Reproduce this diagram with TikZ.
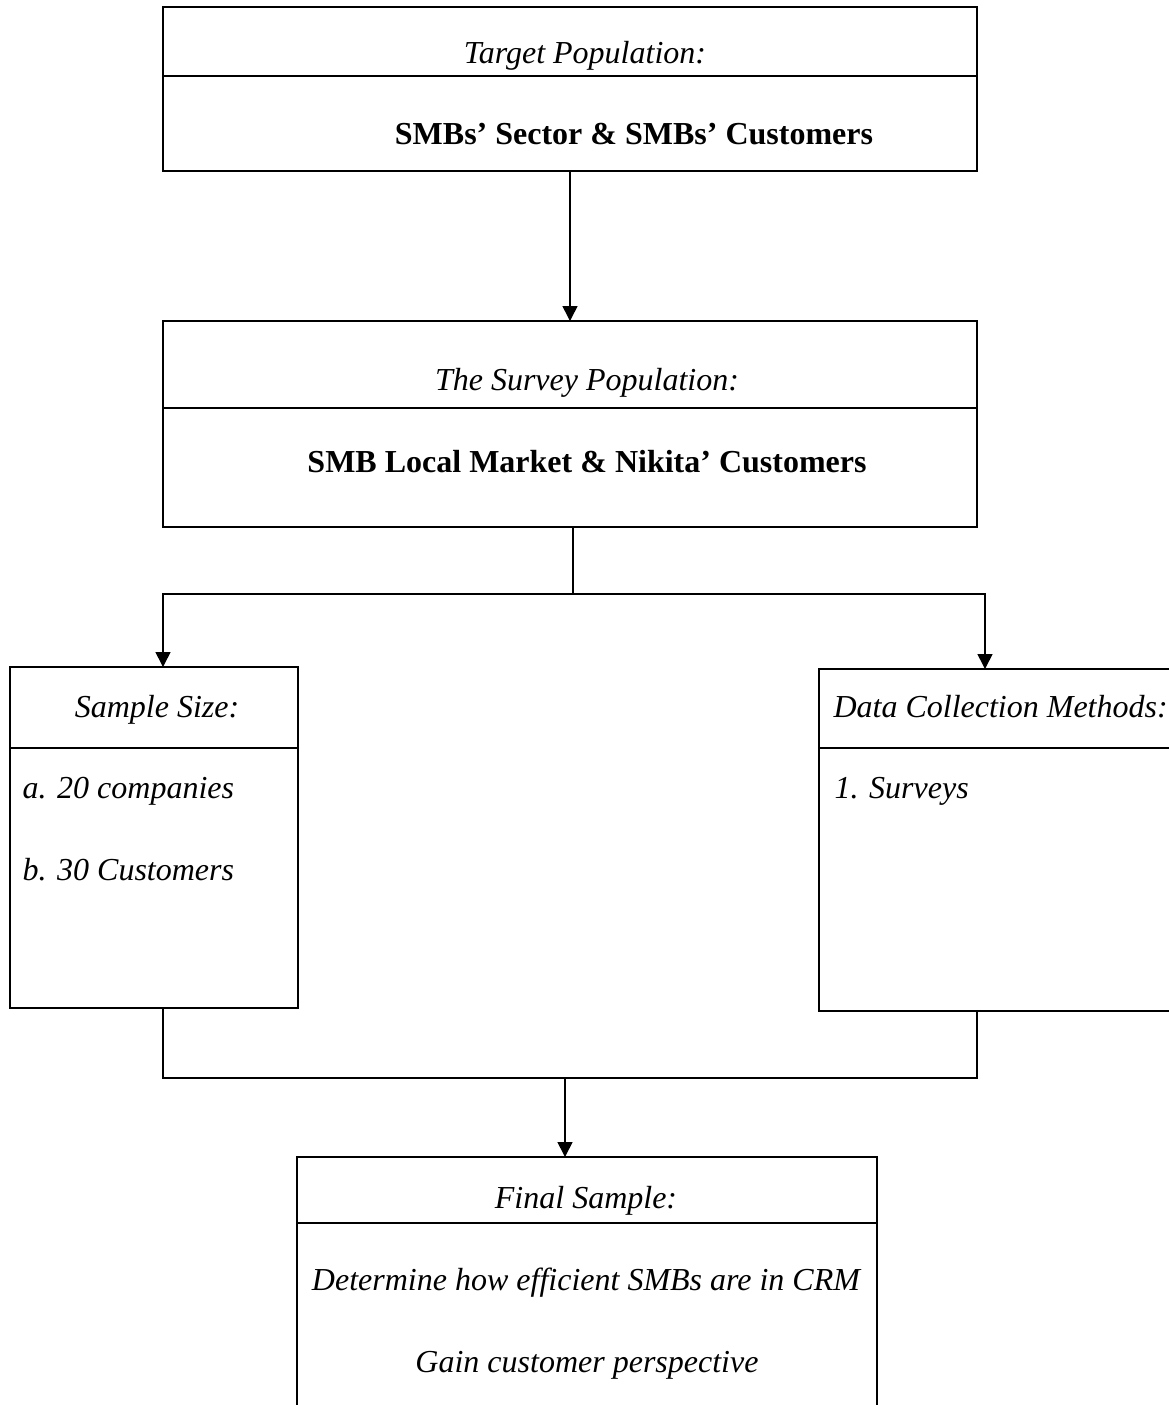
\documentclass[tikz,border=0pt]{standalone}
\usepackage{fontspec}
\setmainfont{Liberation Serif}
\usetikzlibrary{arrows.meta}
\newlength\pxu
\setlength\pxu{0.375pt}

\begin{document}
\begin{tikzpicture}[x=1\pxu,y=-1\pxu,
  cell/.style n args={2}{draw,line width=0.6pt,rectangle,inner sep=0pt,outer sep=0pt,anchor=north west,minimum width=#1\pxu,minimum height=#2\pxu},
  lbl/.style={font=\fontsize{12}{14}\selectfont\itshape,inner sep=0pt},
  bld/.style={font=\fontsize{12}{14}\selectfont\bfseries,inner sep=0pt},
  conn/.style={line width=0.6pt},
  tip/.style={-{Triangle[length=5.6pt,width=5.6pt]}}]
\useasboundingbox (0,0) rectangle (1169,1405);
\foreach \nm/\x/\y/\w/\h in %
{tgthead/163/7/814/69, tgtbody/163/76/814/95,
 svyhead/163/321/814/87, svybody/163/408/814/119,
 szhead/10/667/288/81, szbody/10/748/288/260,
 dchead/819/669/360/79, dcbody/819/748/360/263,
 finhead/297/1157/580/66, finbody/297/1223/580/220} {
   \node[cell={\w}{\h}] (\nm) at (\x,\y) {};
}
\node[lbl,anchor=base] (tgtlbl) at (585,63) {Target Population:};
\node[bld,anchor=base] (tgttxt) at (634,144) {SMBs' Sector \& SMBs' Customers};
\node[lbl,anchor=base] (svylbl) at (587,390) {The Survey Population:};
\node[bld,anchor=base] (svytxt) at (587,472) {SMB Local Market \& Nikita' Customers};
\node[lbl,anchor=base] (szlbl) at (157,717) {Sample Size:};
\node[lbl,anchor=base west] (sza) at (22,798) {a. 20 companies};
\node[lbl,anchor=base west] (szb) at (22,880) {b. 30 Customers};
\node[lbl,anchor=base west] (dclbl) at (833,717) {Data Collection Methods:};
\node[lbl,anchor=base west] (dca) at (834,798) {1. Surveys};
\node[lbl,anchor=base] (finlbl) at (586,1208) {Final Sample:};
\node[lbl,anchor=base] (fina) at (586,1290) {Determine how efficient SMBs are in CRM};
\node[lbl,anchor=base] (finb) at (587,1372) {Gain customer perspective};
\coordinate (split) at (573,594);
\coordinate (merge) at (565,1078);
\draw[conn,tip] (tgtbody.south) -- (svyhead.north);
\draw[conn] ([xshift=3\pxu]svybody.south) -- (split);
\draw[conn,tip] (split) -| ([xshift=9\pxu]szhead.north);
\draw[conn,tip] (split) -| ([xshift=-14\pxu]dchead.north);
\draw[conn] ([xshift=9\pxu]szbody.south) |- (merge);
\draw[conn] ([xshift=-22\pxu]dcbody.south) |- (merge);
\draw[conn,tip] (merge) -- (merge |- finhead.north);
\end{tikzpicture}
\end{document}
